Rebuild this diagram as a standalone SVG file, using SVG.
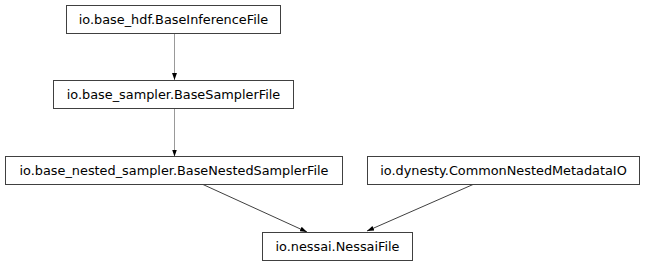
<svg xmlns="http://www.w3.org/2000/svg" width="645" height="265" viewBox="0 0 645 265">
<style>
.node rect{fill:#fff;stroke:#404040;stroke-width:1}
.node text{font-family:"DejaVu Sans",sans-serif;font-size:12.85px;fill:#000;text-anchor:middle}
.edge{fill:none;stroke:#404040;stroke-width:1}
.edge.v{stroke:#999}
</style>
<defs>
<marker id="ah" viewBox="0 0 10 10" refX="10" refY="5" markerWidth="7" markerHeight="7" markerUnits="userSpaceOnUse" orient="auto">
<path d="M0,1.5 L10,5 L0,8.5 Z" fill="#000"/>
</marker>
</defs>
<rect width="645" height="265" fill="#fff"/>
<g id="edges">
<path class="edge v" d="M174.5,33 L174.5,80" marker-end="url(#ah)"/>
<path class="edge v" d="M174.5,108.5 L174.5,156.5" marker-end="url(#ah)"/>
<path class="edge" d="M203,184.5 L307,232" marker-end="url(#ah)"/>
<path class="edge" d="M473,184.5 L367,231" marker-end="url(#ah)"/>
</g>
<g id="n1" class="node"><rect x="66.5" y="5.5" width="214" height="28"/><text x="173.5" y="24">io.base_hdf.BaseInferenceFile</text></g>
<g id="n2" class="node"><rect x="53.5" y="80.5" width="240" height="28"/><text x="173.5" y="99">io.base_sampler.BaseSamplerFile</text></g>
<g id="n3" class="node"><rect x="5.5" y="156.5" width="337" height="28"/><text x="174" y="175">io.base_nested_sampler.BaseNestedSamplerFile</text></g>
<g id="n4" class="node"><rect x="367.5" y="156.5" width="272" height="28"/><text x="503.5" y="175">io.dynesty.CommonNestedMetadataIO</text></g>
<g id="n5" class="node"><rect x="262.5" y="232.5" width="150" height="28"/><text x="337.5" y="251">io.nessai.NessaiFile</text></g>
</svg>
